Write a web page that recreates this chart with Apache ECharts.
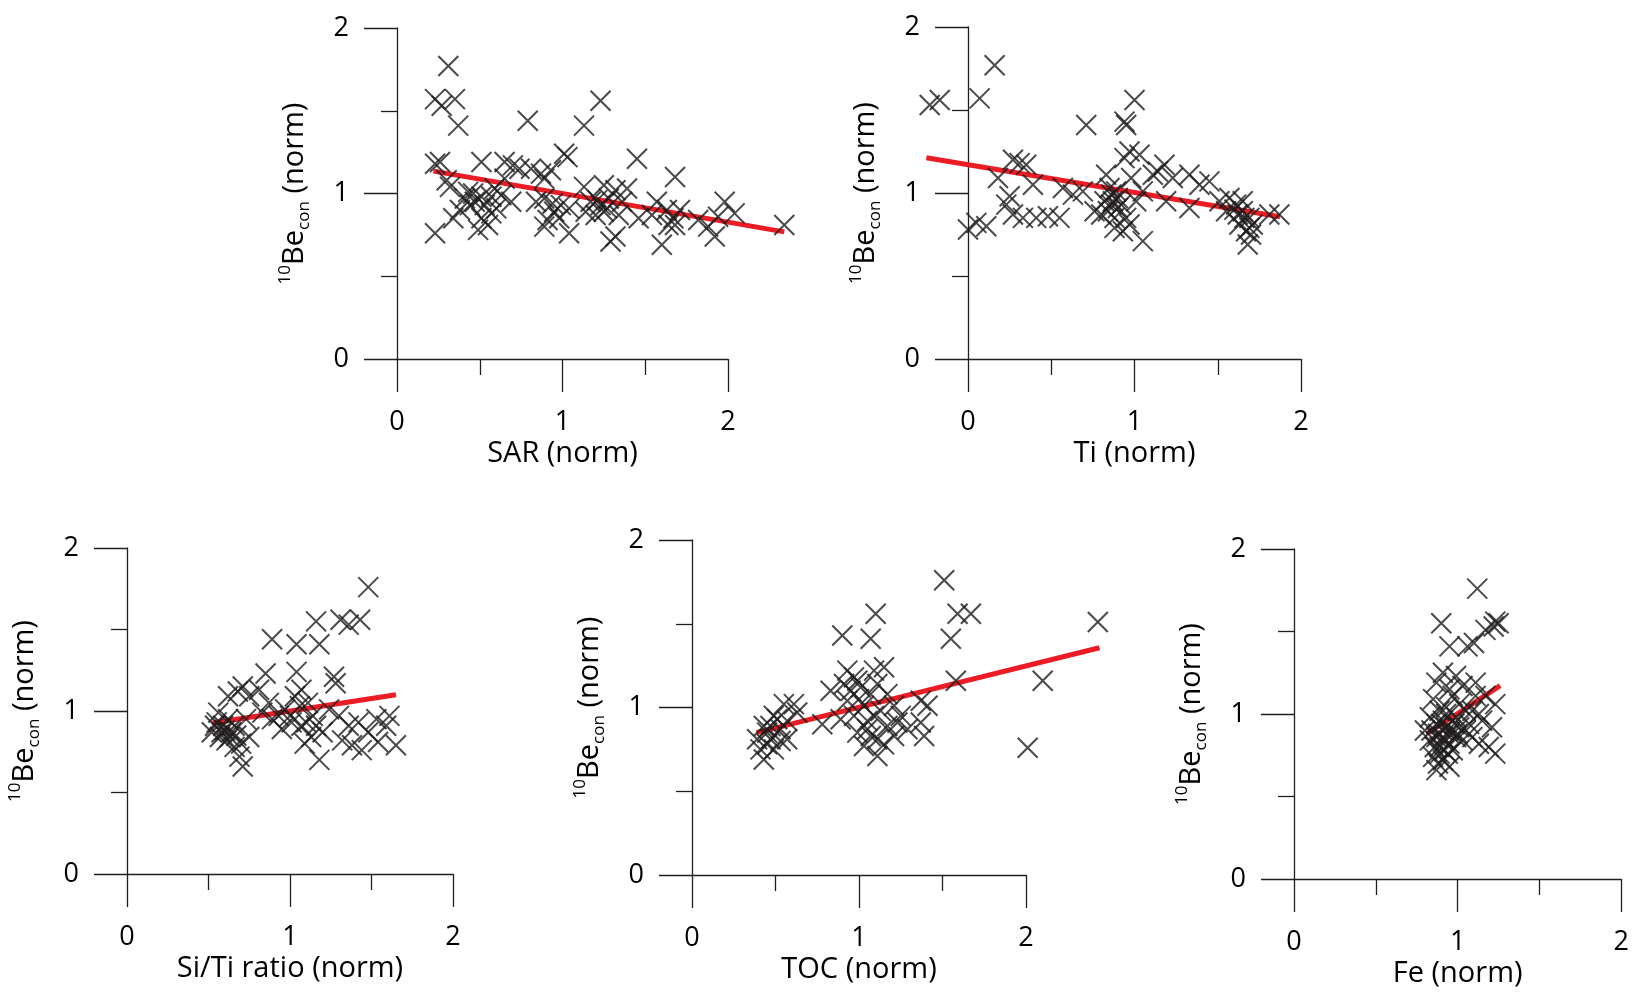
<!DOCTYPE html>
<html>
<head>
<meta charset="utf-8">
<title>10Be con vs normalised proxies</title>
<script src="https://cdn.jsdelivr.net/npm/echarts@6/dist/echarts.min.js"></script>
<style>
  html, body { margin: 0; padding: 0; background: #fff; }
  #chart { width: 1632px; height: 993px; }
</style>
</head>
<body>
<div id="chart"></div>
<script>
// 所有子图共用的坐标范围/刻度
const tickValues = [0, 1, 2];

// x 轴名称，顺序：上左、上右、下左、下中、下右
const xNames = ['SAR (norm)', 'Ti (norm)', 'Si/Ti ratio (norm)', 'TOC (norm)', 'Fe (norm)'];

// 上左：SAR
const sarPoints = [
  [0.31,1.77],[0.23,1.57],[0.35,1.57],[0.27,1.53],[0.37,1.41],[0.79,1.44],[1.13,1.41],[1.23,1.56],
  [0.23,1.18],[0.26,1.19],[0.51,1.19],[0.65,1.19],[0.70,1.17],[0.74,1.15],[0.81,1.15],[0.87,1.12],
  [0.93,1.14],[1.01,1.24],[1.03,1.22],[1.45,1.21],[1.68,1.10],
  [0.30,1.08],[0.32,1.04],[0.46,1.00],[0.51,0.98],[0.57,0.98],[0.63,0.99],[0.69,0.95],[0.44,0.93],
  [0.38,0.90],[0.34,0.85],[0.51,0.85],[0.57,0.88],[0.49,0.78],[0.55,0.81],[0.60,0.91],
  [0.89,0.97],[0.94,0.94],[0.99,0.93],[1.04,0.91],[0.91,0.84],[0.89,0.80],[0.98,0.85],
  [1.13,1.04],[1.17,0.95],[1.23,0.93],[1.28,0.97],[1.32,1.02],[1.39,1.03],[1.25,0.89],[1.20,0.87],
  [1.14,0.89],[1.34,0.87],[1.04,0.76],[1.29,0.71],[1.32,0.74],[1.46,0.85],[1.54,0.87],[1.57,0.95],
  [1.63,0.90],[1.67,0.85],[1.68,0.81],[1.71,0.90],[1.60,0.69],[0.23,0.76],
  [1.82,0.84],[1.88,0.80],[1.92,0.74],[1.98,0.95],[2.04,0.88],[1.94,0.86],[2.34,0.81],
  [0.43,1.01],[0.59,1.03],[0.65,1.09],[0.89,1.09],[0.84,0.95],[1.25,1.05],[1.36,0.95],[1.64,0.81],
  [0.47,0.95],[0.53,0.93],[0.41,0.97],[1.21,0.96],[1.27,0.91],[0.95,0.89]
];
const sarFit = [[0.22,1.135],[2.34,0.768]];

// 上右：Ti
const tiPoints = [
  [0.16,1.77],[-0.23,1.53],[-0.17,1.56],[0.07,1.57],[0.71,1.41],[1.00,1.56],[0.94,1.43],[0.95,1.41],
  [0.00,0.78],[0.05,0.82],[0.11,0.80],[0.18,1.09],[0.25,0.98],[0.23,0.93],[0.27,1.20],[0.31,1.18],
  [0.35,1.17],[0.39,1.05],[0.27,0.87],[0.33,0.85],[0.41,0.85],[0.48,0.86],[0.55,0.85],[0.57,1.03],
  [0.63,0.99],[0.69,1.01],[0.83,1.11],[0.85,1.03],[0.82,0.95],[0.87,0.95],[0.84,0.89],[0.90,0.91],
  [0.88,0.79],[0.95,0.85],[0.97,0.81],[1.05,0.71],[0.94,1.21],[0.97,1.25],[1.03,1.23],[0.98,1.09],
  [1.05,1.01],[1.01,0.95],[1.11,1.11],[1.14,1.13],[1.18,1.17],[1.23,1.09],[1.19,0.95],
  [1.33,1.11],[1.39,1.05],[1.45,1.07],[1.33,0.91],[1.51,0.95],[1.57,0.97],[1.61,0.93],[1.65,0.89],
  [1.69,0.85],[1.63,0.81],[1.67,0.77],[1.71,0.81],[1.68,0.69],[1.87,0.87],[1.81,0.87],[1.55,0.89],
  [0.76,0.89],[0.89,1.01],[1.65,0.95],[0.86,0.99],[0.92,0.93],[0.80,0.87],[0.93,0.77],[1.60,0.90],
  [1.70,0.75],[0.86,0.93],[0.90,0.97],[0.88,0.85],[1.66,0.85],[1.69,0.79],[1.62,0.87]
];
const tiFit = [[-0.25,1.212],[1.874,0.857]];

// 下左：Si/Ti
const siTiPoints = [
  [1.48,1.76],[1.16,1.55],[1.31,1.56],[1.36,1.53],[1.43,1.56],[0.89,1.44],[1.04,1.41],[1.18,1.41],
  [0.85,1.23],[1.04,1.24],[1.27,1.21],[1.28,1.17],[0.71,1.15],[0.75,1.09],[0.81,1.13],[0.68,1.12],
  [0.62,1.09],[0.87,1.05],[0.93,0.97],[0.97,1.01],[1.03,1.09],[1.07,1.13],[1.11,1.05],
  [1.01,0.93],[1.07,0.91],[1.13,0.84],[1.16,0.91],[1.09,0.80],[1.18,0.70],[1.24,1.01],[1.30,0.97],
  [1.36,0.91],[1.42,0.93],[1.48,0.87],[1.53,0.95],[1.59,0.91],[1.61,0.97],[1.65,0.79],[1.38,0.79],
  [1.44,0.76],[1.32,0.82],[1.54,0.81],
  [0.54,0.91],[0.58,0.87],[0.52,0.87],[0.61,0.82],[0.66,0.78],[0.71,0.66],[0.69,0.72],[0.62,0.95],
  [0.56,0.99],[0.75,0.84],[0.66,0.91],[0.73,0.95],[0.95,0.89],[1.20,0.87],[0.89,0.95],[0.83,0.99],
  [0.59,0.91],[0.64,0.87],[0.57,0.84],[0.60,0.88],[0.55,0.93],[0.63,0.84],[0.67,0.85],[0.70,0.80],
  [1.00,0.97],[1.10,0.93],[1.14,0.97],[1.06,1.03]
];
const siTiFit = [[0.525,0.926],[1.65,1.10]];

// 下中：TOC
const tocPoints = [
  [1.51,1.76],[1.10,1.56],[1.59,1.56],[1.67,1.56],[0.90,1.43],[1.07,1.41],[1.55,1.41],[2.43,1.51],
  [1.58,1.16],[2.10,1.16],[2.01,0.76],
  [0.43,0.89],[0.49,0.95],[0.55,1.02],[0.61,1.02],[0.47,0.81],[0.53,0.87],[0.39,0.81],[0.43,0.69],
  [0.41,0.75],[0.49,0.75],[0.57,0.81],[0.63,0.97],[0.45,0.85],[0.51,0.93],
  [0.78,0.90],[0.83,1.10],
  [0.93,1.22],[0.97,1.18],[0.91,1.14],[1.01,1.12],[1.09,1.22],[1.15,1.24],[1.11,1.14],[0.93,1.04],
  [0.97,0.95],[1.03,1.01],[1.09,0.95],[1.05,0.87],[1.11,0.81],[1.11,0.71],[1.03,0.77],[1.17,0.89],
  [1.21,1.01],[1.25,0.95],[1.29,0.87],[1.21,0.83],[1.37,1.04],[1.41,1.01],[1.37,0.91],[1.39,0.83],
  [0.89,0.93],[1.17,1.08],[0.99,0.85],[1.07,1.08],
  [0.95,1.10],[1.00,1.05],[1.05,0.92],[1.13,0.98],[1.07,0.83],[1.15,0.78],[1.23,0.91],[0.99,1.16],
  [0.47,0.89],[0.53,0.80],[0.45,0.78],[0.57,0.92]
];
const tocFit = [[0.386,0.850],[2.44,1.357]];

// 下右：Fe
const fePoints = [
  [1.12,1.76],[0.90,1.55],[0.95,1.41],[1.06,1.41],[1.10,1.43],[1.17,1.51],[1.23,1.56],[1.25,1.55],
  [1.22,1.53],
  [0.91,1.25],[0.99,1.23],[0.87,1.19],[0.95,1.15],[1.03,1.17],[1.11,1.19],[1.17,1.11],[1.23,1.06],
  [0.85,1.09],[0.93,1.04],[1.01,1.06],[1.09,1.02],[0.83,0.98],[0.91,0.96],[0.99,0.98],[1.07,0.94],
  [1.15,0.96],[1.21,0.92],[0.80,0.90],[0.87,0.86],[0.95,0.88],[1.03,0.84],[0.89,0.80],[0.97,0.78],
  [1.13,0.82],[1.19,0.80],[1.23,0.76],[0.91,0.72],[0.87,0.66],[0.95,0.68],[0.85,0.74],[1.01,0.92],
  [1.11,1.11],[0.97,1.11],[0.89,1.02],[0.93,0.92],[0.91,0.90],[0.95,0.82],[0.87,0.94],[0.99,0.86],
  [0.91,0.86],[0.83,0.84],[0.89,0.76],[0.93,1.00],
  [0.88,0.88],[0.92,0.84],[0.96,0.90],[0.86,0.80],[0.94,0.76],[0.90,0.94],[0.98,0.94],[0.84,0.90],
  [1.00,0.88],[0.92,0.78],[0.88,0.70],[1.05,0.90],[1.09,0.86],[1.05,1.02],[1.13,1.00]
];
const feFit = [[0.814,0.882],[1.26,1.172]];

const allPoints = [sarPoints, tiPoints, siTiPoints, tocPoints, fePoints];
const allFits = [sarFit, tiFit, siTiFit, tocFit, feFit];

// 每个子图的绘图区（像素）
const boxes = [
  {left: 397, top: 28, width: 331, height: 331},
  {left: 968, top: 27, width: 333, height: 332},
  {left: 127, top: 548, width: 326, height: 326},
  {left: 692, top: 540, width: 334, height: 335},
  {left: 1294, top: 549, width: 329, height: 330}
];

const INK = '#231f20';
const RED = '#ec1c24';
const FONT = "'Open Sans', 'Noto Sans', sans-serif";
const CROSS = 'path://M0,0L10,10M10,0L0,10';

const lineStyle = {color: INK, width: 1.3};

const makeX = (i) => ({
  type: 'value', gridIndex: i,
  min: tickValues[0], max: tickValues[tickValues.length - 1], interval: 1,
  name: xNames[i], nameLocation: 'middle', nameGap: 80,
  nameTextStyle: {fontFamily: FONT, fontSize: 29, fontWeight: 500, color: '#000'},
  axisLine: {show: true, onZero: false, lineStyle},
  axisTick: {show: true, inside: false, length: 33, lineStyle},
  minorTick: {show: true, splitNumber: 2, length: 16, lineStyle},
  splitLine: {show: false},
  axisLabel: {margin: 50, fontFamily: FONT, fontSize: 27, fontWeight: 500, color: '#000'}
});

const makeY = (i) => ({
  type: 'value', gridIndex: i,
  min: tickValues[0], max: tickValues[tickValues.length - 1], interval: 1,
  name: '{sup|10}{big|Be}{sub|con}{big| (norm)}', nameLocation: 'middle', nameGap: 84,
  nameTextStyle: {
    rich: {
      big: {fontFamily: FONT, fontSize: 29, fontWeight: 500, lineHeight: 36, color: '#000'},
      sup: {fontFamily: FONT, fontSize: 17, fontWeight: 500, lineHeight: 17, verticalAlign: 'top', color: '#000'},
      sub: {fontFamily: FONT, fontSize: 17, fontWeight: 500, lineHeight: 17, verticalAlign: 'bottom', color: '#000'}
    }
  },
  axisLine: {show: true, onZero: false, lineStyle},
  axisTick: {show: true, inside: false, length: 33, lineStyle},
  minorTick: {show: true, splitNumber: 2, length: 16, lineStyle},
  splitLine: {show: false},
  axisLabel: {margin: 48, fontFamily: FONT, fontSize: 27, fontWeight: 500, color: '#000'}
});

// 回归线：两端点可能落在坐标范围外，用 custom 画，不裁剪
const drawFit = (params, api) => {
  const p0 = api.coord([api.value(0), api.value(1)]);
  const p1 = api.coord([api.value(2), api.value(3)]);
  return {
    type: 'line',
    shape: {x1: p0[0], y1: p0[1], x2: p1[0], y2: p1[1]},
    style: {stroke: RED, lineWidth: 5, lineCap: 'butt'}
  };
};

const series = [];
allPoints.forEach((pts, i) => {
  series.push({
    type: 'scatter', xAxisIndex: i, yAxisIndex: i, data: pts, clip: false,
    symbol: CROSS, symbolSize: 20,
    itemStyle: {color: 'rgba(0,0,0,0)', borderColor: '#1e1b1c', borderWidth: 2},
    emphasis: {disabled: true}
  });
});
allFits.forEach((fit, i) => {
  series.push({
    type: 'custom', xAxisIndex: i, yAxisIndex: i, clip: false,
    data: [fit[0].concat(fit[1])],
    encode: {x: [0, 2], y: [1, 3]},
    renderItem: drawFit,
    silent: true
  });
});

const myChart = echarts.init(document.getElementById('chart'));
myChart.setOption({
  animation: false,
  backgroundColor: '#fff',
  grid: boxes.map(b => Object.assign({containLabel: false}, b)),
  xAxis: boxes.map((b, i) => makeX(i)),
  yAxis: boxes.map((b, i) => makeY(i)),
  series
});
window.addEventListener('resize', () => {
  myChart.resize();
});
</script>
</body>
</html>
